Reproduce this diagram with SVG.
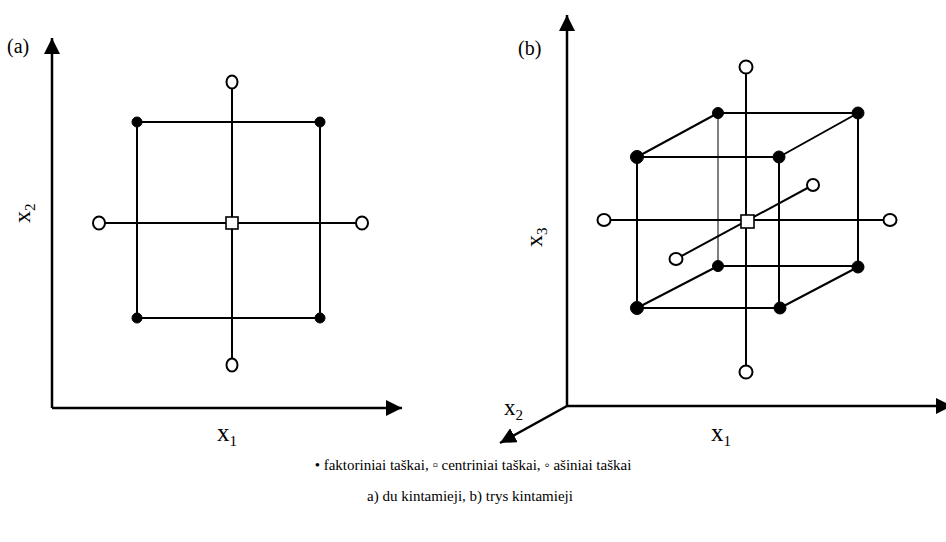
<svg xmlns="http://www.w3.org/2000/svg" width="946" height="542" viewBox="0 0 946 542">
<style>
.ln{fill:none;stroke:#000;stroke-width:2}
.thin{fill:none;stroke:#000;stroke-width:1}
.ax{fill:none;stroke:#000;stroke-width:2.5}
.fd{fill:#000;stroke:#000;stroke-width:1}
.od{fill:#fff;stroke:#000;stroke-width:2}
.cs{fill:#fff;stroke:#000;stroke-width:1.6}
</style>
<defs>
<marker id="arr" markerUnits="userSpaceOnUse" markerWidth="16" markerHeight="16" refX="14" refY="7" orient="auto" viewBox="0 0 14 14">
<path d="M0,0 L14,7 L0,14 Z" fill="#000"/>
</marker>
</defs>
<rect width="946" height="542" fill="#fff"/>
<g id="connectors">
<path class="ax" d="M52,408 V38" marker-end="url(#arr)"/>
<path class="ax" d="M52,408 H402" marker-end="url(#arr)"/>
<path class="ln" d="M137,122 H320 V318 H137 Z"/>
<path class="ln" d="M232,82 V365"/>
<path class="ln" d="M99,223 H362"/>
<path class="ax" d="M567,406 V15" marker-end="url(#arr)"/>
<path class="ax" d="M567,406 H952" marker-end="url(#arr)"/>
<path class="ax" d="M567,406 L500,443" marker-end="url(#arr)"/>
<path class="ln" d="M637,157 H779 V308 H637 Z"/>
<path class="ln" d="M718,113 H858 V267 M718,266 H858"/>
<path class="thin" d="M718,113 V266"/>
<path class="ln" d="M637,157 L718,113 M779,157 L858,113 M637,308 L718,266 M780,308 L858,267"/>
<path class="ln" d="M746,67 V372"/>
<path class="ln" d="M604,220 H890"/>
<path class="ln" d="M676,259 L813,185"/>
</g>
<g id="a-f1"><circle class="fd" cx="137" cy="122" r="5"/></g>
<g id="a-f2"><circle class="fd" cx="320" cy="122" r="5"/></g>
<g id="a-f3"><circle class="fd" cx="137" cy="318" r="5"/></g>
<g id="a-f4"><circle class="fd" cx="320" cy="318" r="5"/></g>
<g id="a-c"><rect class="cs" x="226" y="217" width="12" height="12"/></g>
<g id="a-o1"><ellipse class="od" cx="232" cy="82" rx="5.5" ry="6.5"/></g>
<g id="a-o2"><ellipse class="od" cx="232" cy="365" rx="5.5" ry="6.5"/></g>
<g id="a-o3"><ellipse class="od" cx="99" cy="223" rx="6" ry="6.5"/></g>
<g id="a-o4"><ellipse class="od" cx="362" cy="223" rx="6" ry="6.5"/></g>
<g id="b-f1"><circle class="fd" cx="637" cy="157" r="6.5"/></g>
<g id="b-f2"><circle class="fd" cx="779" cy="157" r="6"/></g>
<g id="b-f3"><circle class="fd" cx="637" cy="308" r="6.5"/></g>
<g id="b-f4"><circle class="fd" cx="780" cy="308" r="6"/></g>
<g id="b-f5"><circle class="fd" cx="718" cy="113" r="5.5"/></g>
<g id="b-f6"><circle class="fd" cx="858" cy="113" r="6"/></g>
<g id="b-f7"><circle class="fd" cx="718" cy="266" r="5.5"/></g>
<g id="b-f8"><circle class="fd" cx="858" cy="267" r="6"/></g>
<g id="b-c"><rect class="cs" x="741" y="215" width="13" height="13"/></g>
<g id="b-o1"><ellipse class="od" cx="746" cy="67" rx="6.5" ry="6.5"/></g>
<g id="b-o2"><ellipse class="od" cx="746" cy="372" rx="6.5" ry="6.5"/></g>
<g id="b-o3"><ellipse class="od" cx="604" cy="220" rx="6.5" ry="6"/></g>
<g id="b-o4"><ellipse class="od" cx="890" cy="220" rx="6.5" ry="6"/></g>
<g id="b-o5"><ellipse class="od" cx="676" cy="259" rx="6.5" ry="6"/></g>
<g id="b-o6"><ellipse class="od" cx="813" cy="185" rx="6" ry="6"/></g>
<g id="labels" font-family="'Liberation Serif', 'DejaVu Serif', serif" fill="#000">
<text x="7" y="53" font-size="20">(a)</text>
<text x="518" y="55" font-size="20">(b)</text>
<text transform="translate(30,223) rotate(-90)" font-size="24">x<tspan font-size="15" dy="5">2</tspan></text>
<text transform="translate(542,247) rotate(-90)" font-size="24">x<tspan font-size="15" dy="5">3</tspan></text>
<text x="217" y="441" font-size="25">x<tspan font-size="15" dy="5">1</tspan></text>
<text x="711" y="441" font-size="25">x<tspan font-size="15" dy="5">1</tspan></text>
<text x="504" y="415" font-size="23">x<tspan font-size="15" dy="5">2</tspan></text>
</g>
<g id="legend" font-family="'Liberation Serif', 'DejaVu Serif', serif" font-size="15" fill="#000">
<text x="473" y="470" text-anchor="middle">• faktoriniai taškai,  ▫ centriniai taškai, ◦ ašiniai taškai</text>
<text x="470" y="501" text-anchor="middle">a) du kintamieji, b) trys kintamieji</text>
</g>
</svg>
